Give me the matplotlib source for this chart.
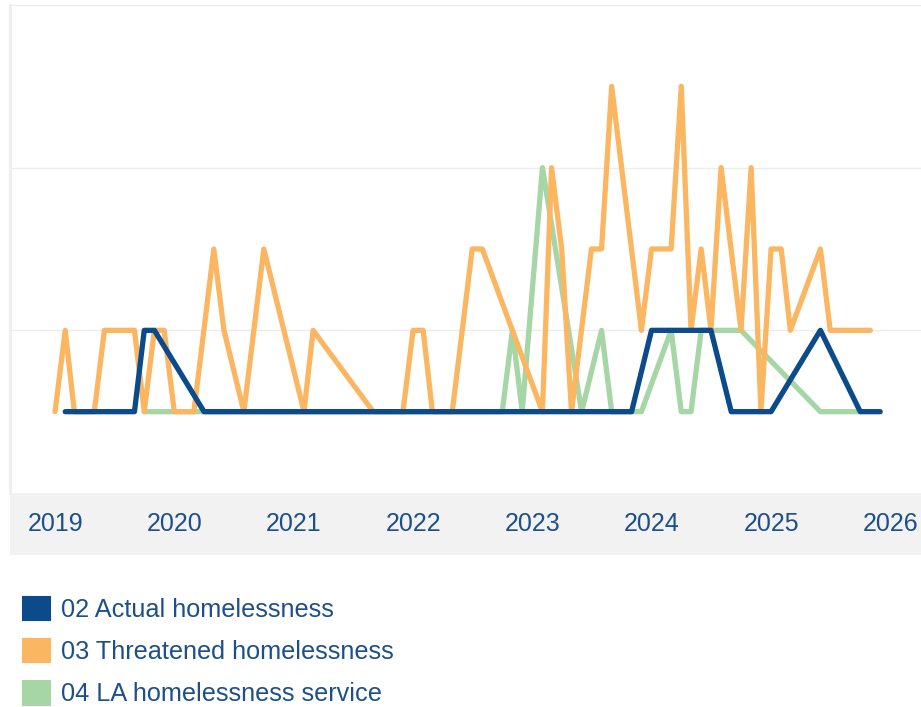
import matplotlib
matplotlib.use("Agg")
import matplotlib.pyplot as plt
import pandas as pd
from matplotlib.patches import Patch, Rectangle

plt.rcParams["font.family"] = ["Liberation Sans", "DejaVu Sans"]

# months counted from Jan 2019, and the monthly counts
actual_months = [1, 8, 9, 10, 15, 20, 25, 30, 35, 40, 45, 50, 55, 58, 60, 66, 68, 72, 77, 81, 83]
actual_values = [1, 1, 2, 2, 1, 1, 1, 1, 1, 1, 1, 1, 1, 1, 2, 2, 1, 1, 2, 1, 1]

threatened_months = [0, 1, 2, 4, 5, 8, 9, 10, 11, 12, 14, 16, 17, 19, 21, 25, 26, 32,
                     35, 36, 37, 38, 40, 42, 43, 49, 50, 51, 52, 54, 55, 56, 59, 60,
                     62, 63, 64, 65, 66, 67, 69, 70, 71, 72, 73, 74, 77, 78, 82]
threatened_values = [1, 2, 1, 1, 2, 2, 1, 2, 2, 1, 1, 3, 2, 1, 3, 1, 2, 1,
                     1, 2, 2, 1, 1, 3, 3, 1, 4, 3, 1, 3, 3, 5, 2, 3,
                     3, 5, 2, 3, 2, 4, 2, 4, 1, 3, 3, 2, 3, 2, 2]

service_months = [9, 12, 45, 46, 47, 49, 53, 55, 56, 59, 62, 63, 64, 65, 69, 77, 81]
service_values = [1, 1, 1, 2, 1, 4, 1, 2, 1, 1, 2, 1, 1, 2, 2, 1, 1]

labels = ["02 Actual homelessness", "03 Threatened homelessness", "04 LA homelessness service"]
colors = ["#0b4a8b", "#fbb662", "#a6d6a6"]
years = list(range(2019, 2027))

start = pd.Timestamp("2019-01-01")


def to_dates(months):
    return [start + pd.DateOffset(months=m) for m in months]


text_color = "#1d4f88"

fig = plt.figure(figsize=(9.21, 7.07), dpi=100)

# grey band behind the year labels
fig.patches.append(Rectangle((10 / 921, 152 / 707), 911 / 921, 62 / 707,
                             transform=fig.transFigure, facecolor="#f2f2f2",
                             edgecolor="none", zorder=-1))

ax = fig.add_axes([10 / 921, 214 / 707, 911 / 921, 488 / 707])
ax.set_zorder(2)

series = [
    (actual_months, actual_values, 3),
    (threatened_months, threatened_values, 2),
    (service_months, service_values, 1),
]
for (months, values, z), color in zip(series, colors):
    ax.plot(to_dates(months), values, color=color, linewidth=3.8,
            solid_joinstyle="round", solid_capstyle="round", zorder=z)

ax.set_ylim(0, 6)
ax.set_yticks([2, 4, 6])
ax.set_yticklabels([])
ax.grid(axis="y", color="#ececec", linewidth=1)
ax.set_axisbelow(True)
ax.tick_params(axis="y", length=0)

ax.set_xlim(start - pd.DateOffset(days=138), start + pd.DateOffset(days=2651))
ticks = [pd.Timestamp(f"{y}-01-01") for y in years]
ax.set_xticks(ticks)
ax.set_xticklabels([str(y) for y in years], fontsize=18, color=text_color)
ax.tick_params(axis="x", length=0, pad=13.5)

for side in ["top", "right", "bottom"]:
    ax.spines[side].set_visible(False)
ax.spines["left"].set_color("#eeeeee")
ax.spines["left"].set_linewidth(2)

handles = [Patch(facecolor=c, edgecolor=c, linewidth=1.5, joinstyle="round") for c in colors]
leg = fig.legend(handles, labels, loc="upper left", bbox_to_anchor=(23 / 921, 1 - 597 / 707),
                 frameon=False, fontsize=18.2, handlelength=1.05, handleheight=1.05,
                 handletextpad=0.45, labelspacing=0.66, borderpad=0, borderaxespad=0)
for t in leg.get_texts():
    t.set_color(text_color)

fig.savefig("out.png", dpi=100)
